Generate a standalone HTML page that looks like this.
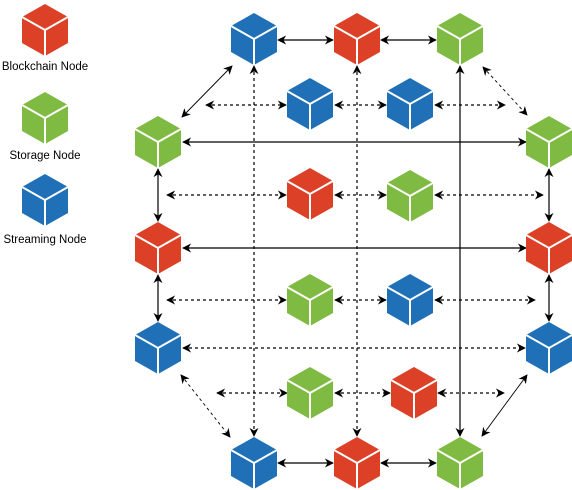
<!DOCTYPE html>
<html><head><meta charset="utf-8"><style>
html,body{margin:0;padding:0;background:#fff;width:572px;height:490px;overflow:hidden}
svg{display:block}
text{font-family:"Liberation Sans",sans-serif;font-size:11.5px;fill:#000}
</style></head><body>
<svg width="572" height="490" viewBox="0 0 572 490" xmlns="http://www.w3.org/2000/svg">
<defs>
<marker id="a" viewBox="0 0 10 10" refX="9" refY="5" markerWidth="9" markerHeight="9" markerUnits="userSpaceOnUse" orient="auto-start-reverse">
<path d="M0,0 L10,5 L0,10 L3,5 Z" fill="#000"/>
</marker>
<g id="cube">
<path d="M0,-26 L23,-13 L23,13 L0,26 L-23,13 L-23,-13 Z"/>
<path d="M-23,-13 L0,0 L23,-13 M0,0 L0,26" stroke="#fff" stroke-width="2" fill="none"/>
</g>
</defs>
<g stroke="#000" stroke-width="1.2" fill="none">
<!-- solid -->
<g marker-start="url(#a)" marker-end="url(#a)">
<line x1="278" y1="40" x2="333" y2="40"/>
<line x1="381" y1="40" x2="436" y2="40"/>
<line x1="278" y1="463" x2="333" y2="463"/>
<line x1="381" y1="463" x2="436" y2="463"/>
<line x1="183" y1="142" x2="526" y2="142"/>
<line x1="183" y1="248" x2="526" y2="248"/>
<line x1="460" y1="66" x2="460" y2="436"/>
<line x1="158" y1="169" x2="158" y2="221"/>
<line x1="158" y1="275" x2="158" y2="321"/>
<line x1="549" y1="169" x2="549" y2="221"/>
<line x1="549" y1="275" x2="549" y2="321"/>
<line x1="232" y1="66" x2="182" y2="117" stroke-width="0.9"/>
<line x1="527" y1="375" x2="482" y2="436" stroke-width="0.9"/>
</g>
<!-- dashed -->
<g stroke-dasharray="3,3" marker-start="url(#a)" marker-end="url(#a)">
<line x1="254" y1="66" x2="254" y2="436"/>
<line x1="357" y1="66" x2="357" y2="436"/>
<line x1="183" y1="348" x2="525" y2="348"/>
<line x1="206" y1="105" x2="286" y2="105"/>
<line x1="335" y1="105" x2="386" y2="105"/>
<line x1="435" y1="105" x2="505" y2="105"/>
<line x1="167" y1="195" x2="286" y2="195"/>
<line x1="335" y1="195" x2="386" y2="195"/>
<line x1="435" y1="195" x2="543" y2="195"/>
<line x1="167" y1="300" x2="286" y2="300"/>
<line x1="335" y1="300" x2="386" y2="300"/>
<line x1="435" y1="300" x2="535" y2="300"/>
<line x1="217" y1="393" x2="287" y2="393"/>
<line x1="335" y1="393" x2="390" y2="393"/>
<line x1="438" y1="393" x2="504" y2="393"/>
<line x1="483" y1="67" x2="527" y2="115" stroke-width="0.9"/>
<line x1="181" y1="375" x2="230" y2="437" stroke-width="0.9"/>
</g>
</g>
<g>
<use href="#cube" x="45" y="30" fill="#DC4127"/>
<use href="#cube" x="45" y="118" fill="#7FBA42"/>
<use href="#cube" x="45" y="200" fill="#1F70B7"/>

<use href="#cube" x="254" y="39" fill="#1F70B7"/>
<use href="#cube" x="357" y="39" fill="#DC4127"/>
<use href="#cube" x="460" y="39" fill="#7FBA42"/>
<use href="#cube" x="310" y="104" fill="#1F70B7"/>
<use href="#cube" x="410" y="104" fill="#1F70B7"/>
<use href="#cube" x="158" y="142" fill="#7FBA42"/>
<use href="#cube" x="549" y="142" fill="#7FBA42"/>
<use href="#cube" x="310" y="194" fill="#DC4127"/>
<use href="#cube" x="410" y="196" fill="#7FBA42"/>
<use href="#cube" x="158" y="248" fill="#DC4127"/>
<use href="#cube" x="549" y="248" fill="#DC4127"/>
<use href="#cube" x="310" y="300" fill="#7FBA42"/>
<use href="#cube" x="410" y="300" fill="#1F70B7"/>
<use href="#cube" x="158" y="348" fill="#1F70B7"/>
<use href="#cube" x="549" y="348" fill="#1F70B7"/>
<use href="#cube" x="310" y="393" fill="#7FBA42"/>
<use href="#cube" x="414" y="393" fill="#DC4127"/>
<use href="#cube" x="254" y="463" fill="#1F70B7"/>
<use href="#cube" x="357" y="463" fill="#DC4127"/>
<use href="#cube" x="460" y="463" fill="#7FBA42"/>
</g>
<text x="45" y="70" text-anchor="middle">Blockchain Node</text>
<text x="45" y="159" text-anchor="middle">Storage Node</text>
<text x="45" y="243" text-anchor="middle">Streaming Node</text>
</svg>
</body></html>
